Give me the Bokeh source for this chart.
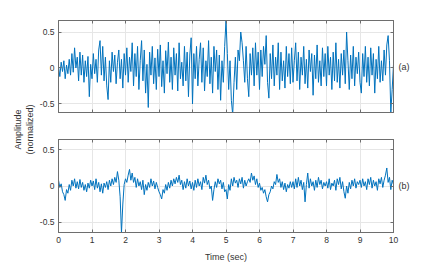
import numpy as np
from math import pi
from bokeh.plotting import figure
from bokeh.models import Range1d, LinearAxis, FixedTicker, Label, Plot
from bokeh.layouts import row, column
from bokeh.embed import file_html
from bokeh.resources import INLINE

# ---------------- data ----------------
T_START, T_END = 0.0, 10.0

sig_a = [
    0.02, -0.12, 0.08, -0.05, 0.1, -0.15, 0.04, -0.08, 0.12, -0.1, 0.2, -0.06, 0.28, 0.0, 0.15, -0.18, 0.22, -0.1, 0.18, -0.2, 0.1, -0.12, 0.16, -0.4, 0.05,
    -0.15, 0.2, -0.08, 0.12, -0.2, 0.25, 0.38, -0.1, 0.3, -0.18, 0.15, -0.25, -0.44, 0.1, -0.2, 0.22, -0.05, 0.18, -0.22, 0.08, 0.25, -0.15, 0.12, -0.28, 0.2,
    -0.1, 0.28, -0.2, 0.15, -0.05, 0.35, -0.25, 0.2, -0.12, 0.3, -0.3, 0.1, 0.38, -0.18, 0.25, -0.35, 0.05, -0.55, 0.22, -0.1, 0.3, -0.22, 0.14, -0.3, 0.26,
    -0.12, 0.32, -0.26, 0.1, -0.35, 0.24, -0.08, 0.36, -0.2, 0.15, -0.3, 0.28, -0.1, 0.2, -0.32, 0.35, -0.15, 0.08, -0.25, 0.3, -0.18, 0.22, -0.4, 0.18, 0.42,
    -0.5, 0.2, -0.15, 0.3, -0.25, 0.12, 0.35, -0.2, 0.28, -0.32, 0.1, -0.12, 0.38, -0.22, 0.15, -0.35, 0.3, -0.05, 0.25, -0.3, 0.18, -0.45, 0.1, -0.2, 0.3,
    0.66, 0.2, -0.3, 0.1, -0.45, -0.65, -0.2, 0.15, -0.3, 0.25, 0.1, 0.5, 0.35, 0.1, -0.2, 0.3, -0.15, -0.4, 0.2, -0.1, 0.28, -0.25, 0.35, -0.1, 0.22,
    -0.3, 0.25, -0.12, 0.3, 0.05, 0.45, -0.2, -0.42, 0.2, -0.15, 0.32, -0.25, 0.15, -0.1, 0.35, -0.3, 0.22, -0.18, 0.1, -0.28, 0.3, -0.12, 0.2, -0.22, 0.28,
    -0.2, 0.1, 0.35, -0.18, 0.22, -0.3, 0.15, -0.1, 0.3, -0.22, 0.12, -0.28, 0.25, -0.05, 0.2, -0.38, 0.18, -0.15, 0.32, -0.2, 0.1, -0.25, 0.28, -0.12, 0.2,
    -0.25, 0.3, -0.1, 0.15, -0.3, 0.22, -0.18, 0.35, -0.2, 0.12, -0.28, 0.2, -0.1, 0.25, -0.22, 0.5, 0.1, -0.3, 0.18, -0.15, 0.3, -0.25, 0.15, -0.08, 0.22,
    -0.2, -0.35, 0.2, -0.12, 0.3, -0.2, 0.15, -0.25, 0.28, -0.1, 0.2, -0.35, 0.12, -0.15, 0.3, -0.2, 0.1, -0.18, 0.25, -0.1, 0.32, 0.45, 0.1, -0.62, -0.3, 0.05,
]

sig_b = [
    0.08, -0.02, 0.03, -0.08, -0.12, -0.2, -0.05, -0.1, 0.02, -0.06, 0.08, 0.0, 0.1, -0.03, 0.06, -0.04, 0.09, -0.02, 0.05, -0.06, 0.02, -0.08, 0.04, -0.03, 0.08,
    0.0, 0.07, -0.05, 0.1, -0.03, 0.05, -0.08, 0.03, -0.1, 0.04, -0.02, 0.06, -0.05, 0.08, 0.0, 0.1, 0.02, 0.12, 0.05, 0.2, 0.08, -0.15, -0.65, -0.25, 0.02,
    0.1, 0.05, 0.15, 0.23, 0.08, 0.18, 0.05, 0.12, -0.02, 0.1, 0.0, 0.06, -0.05, 0.08, -0.12, 0.02, -0.06, 0.05, -0.02, 0.1, 0.0, 0.07, -0.04, 0.05, -0.02,
    -0.08, -0.12, -0.18, -0.05, -0.1, 0.02, -0.06, 0.05, -0.03, 0.08, 0.0, 0.1, 0.03, 0.12, 0.05, 0.15, 0.02, 0.08, -0.05, 0.06, -0.03, 0.1, 0.0, 0.07, -0.04,
    0.05, -0.06, 0.08, -0.02, 0.1, 0.0, 0.06, -0.05, 0.12, 0.04, 0.15, 0.02, 0.08, -0.04, 0.0, -0.2, -0.05, 0.06, -0.02, 0.1, 0.03, 0.08, -0.04, 0.05, -0.08,
    -0.05, -0.18, 0.02, -0.06, 0.1, 0.0, 0.12, 0.04, 0.08, -0.02, 0.1, 0.03, 0.12, -0.03, 0.08, 0.0, 0.06, 0.1, 0.05, 0.18, 0.08, 0.14, 0.02, 0.1, -0.02,
    0.04, -0.06, -0.02, -0.1, -0.05, -0.15, -0.22, -0.12, -0.08, 0.0, -0.04, 0.06, 0.02, 0.16, 0.05, 0.1, -0.02, 0.06, -0.05, 0.04, -0.08, 0.02, -0.03, 0.06, -0.02,
    0.06, -0.04, 0.1, -0.02, 0.12, 0.0, 0.08, -0.05, 0.05, -0.22, 0.02, 0.18, -0.03, 0.1, 0.0, 0.06, -0.06, 0.08, -0.02, 0.12, 0.02, 0.08, -0.04, 0.05, 0.0,
    0.06, -0.03, 0.1, -0.05, 0.04, 0.0, 0.08, -0.06, 0.1, 0.02, 0.12, -0.04, 0.06, -0.08, -0.17, 0.0, -0.1, 0.05, -0.04, 0.08, 0.0, 0.1, -0.03, 0.06, 0.02,
    0.08, -0.02, 0.1, 0.0, 0.06, -0.05, 0.1, 0.02, 0.12, -0.03, 0.08, 0.0, 0.06, -0.06, 0.1, 0.03, 0.12, -0.02, 0.08, 0.15, 0.25, 0.05, 0.12, -0.05, 0.08, 0.02,
]

x_ticks = [0, 1, 2, 3, 4, 5, 6, 7, 8, 9, 10]
y_ticks = [-0.5, 0, 0.5]
y_tick_labels = {-0.5: "-0.5", 0: "0", 0.5: "0.5"}
ylim_a = (-0.62, 0.66)
ylim_b = (-0.645, 0.645)
panel_tags = ["(a)", "(b)"]
x_label = "Time (sec)"
y_label_lines = ["Amplitude", "(normalized)"]

# ---------------- style ----------------
FONT = "Liberation Sans"
LINE_COLOR = "#0072BD"
AX_COLOR = "#6e6e6e"
TXT_COLOR = "#333333"
GRID_COLOR = "#e6e6e6"
TICK_FS = "8.5px"
LAB_FS = "9px"
FIG_W = 390


def style_axis(ax, ticks, labels=None):
    ax.ticker = FixedTicker(ticks=ticks)
    ax.major_tick_in = 3
    ax.major_tick_out = 0
    ax.minor_tick_line_color = None
    ax.axis_line_color = AX_COLOR
    ax.major_tick_line_color = AX_COLOR
    ax.major_label_text_font = FONT
    ax.major_label_text_color = TXT_COLOR
    ax.major_label_standoff = 4
    if labels is None:
        ax.major_label_text_font_size = "0px"
        ax.major_label_overrides = {k: "" for k in ticks}
        ax.major_label_standoff = 0
    else:
        ax.major_label_text_font_size = TICK_FS
        if labels:
            ax.major_label_overrides = labels


def make_panel(sig, ylim, h, b_top, b_bot, tag, show_x):
    t = np.linspace(T_START, T_END, len(sig))
    p = figure(width=FIG_W, height=h, x_range=Range1d(T_START, T_END),
               y_range=Range1d(*ylim), output_backend="svg",
               toolbar_location=None, min_border_left=20, min_border_right=33,
               min_border_top=b_top, min_border_bottom=b_bot)
    p.outline_line_color = AX_COLOR
    p.background_fill_color = "white"
    p.border_fill_color = "white"
    p.line(t, sig, line_color=LINE_COLOR, line_width=1.0)

    bottom = p.below[0]
    left = p.left[0]
    style_axis(bottom, x_ticks, {} if show_x else None)
    style_axis(left, y_ticks, y_tick_labels)
    top = LinearAxis()
    style_axis(top, x_ticks, None)
    p.add_layout(top, "above")
    right = LinearAxis()
    style_axis(right, y_ticks, None)
    right.axis_label = tag
    right.axis_label_orientation = "horizontal"
    right.axis_label_standoff = 5
    right.axis_label_text_font = FONT
    right.axis_label_text_font_size = LAB_FS
    right.axis_label_text_font_style = "normal"
    right.axis_label_text_color = TXT_COLOR
    p.add_layout(right, "right")

    for g in p.grid:
        g.grid_line_color = GRID_COLOR
        g.grid_line_width = 1

    if show_x:
        bottom.axis_label = x_label
        bottom.axis_label_text_font = FONT
        bottom.axis_label_text_font_size = LAB_FS
        bottom.axis_label_text_font_style = "normal"
        bottom.axis_label_text_color = TXT_COLOR
        bottom.axis_label_standoff = 6
    return p


f1 = make_panel(sig_a, ylim_a, 124, 20, 12, panel_tags[0], False)
f2 = make_panel(sig_b, ylim_b, 141, 15, 33, panel_tags[1], True)

LP_W, LP_H = 36, 265
lp = Plot(width=LP_W, height=LP_H, x_range=Range1d(0, LP_W), y_range=Range1d(0, LP_H),
          min_border=0, toolbar_location=None, outline_line_color=None,
          output_backend="svg")
label_center_y = LP_H - 129
for xpos, txt in zip([17, 29], y_label_lines):
    lp.add_layout(Label(x=xpos, y=label_center_y, text=txt, angle=pi / 2,
                        text_align="center", text_baseline="middle",
                        text_font=FONT, text_font_size=LAB_FS,
                        text_color=TXT_COLOR))

layout = row(lp, column(f1, f2))
open("out.html", "w").write(file_html(layout, INLINE))
